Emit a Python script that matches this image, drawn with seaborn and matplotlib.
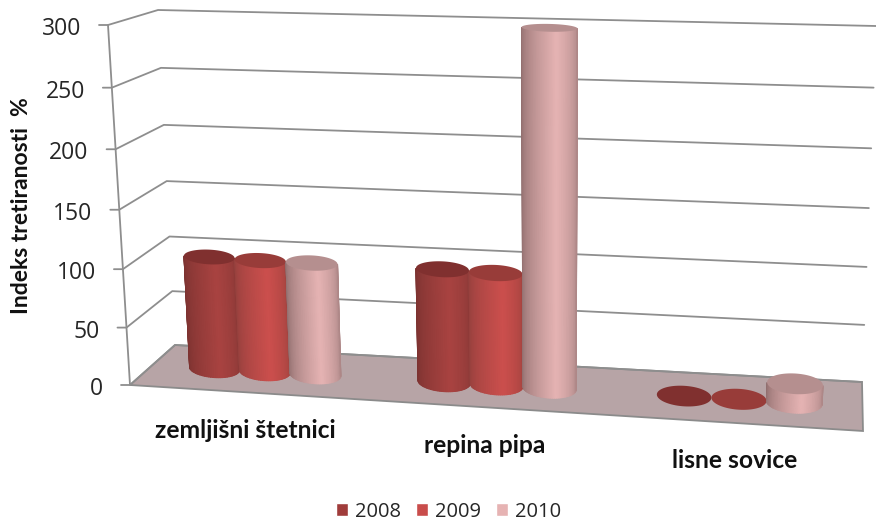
import numpy as np
import pandas as pd
import matplotlib
matplotlib.use('Agg')
import matplotlib.pyplot as plt
import seaborn as sns
from matplotlib.colors import LinearSegmentedColormap
from matplotlib.patches import Polygon
from matplotlib.transforms import Affine2D, Transform

categories = ['zemljišni štetnici', 'repina pipa', 'lisne sovice']
years = ['2008', '2009', '2010']
values_2008 = [99, 98, 0]
values_2009 = [98, 97, 0]
values_2010 = [98, 300, 16]
y_ticks = [0, 50, 100, 150, 200, 250, 300]

body_colors = {
    '2008': ('#7a3230', '#a94341', '#8c3937'),
    '2009': ('#93403d', '#cc4f4d', '#a3433f'),
    '2010': ('#8f6d6d', '#e6b4b4', '#ad8787'),
}
cap_colors = {'2008': '#80302f', '2009': '#983c39', '2010': '#b58f8f'}
legend_colors = ['#a03c3b', '#c94d4b', '#e6b3b3']

sns.set_theme(style='white')
plt.rcParams['font.family'] = ['Open Sans', 'DejaVu Sans']

W, H = 876, 520
to_display = Affine2D().scale(1, -1).translate(0, H)

# data range of the floor
x_lo, x_hi = -0.50, 2.493
v_lo, v_hi = 0, 300


def fit_plane(corners):
    # homography from (category position, value) to picture pixels
    src = [(x_lo, v_lo), (x_hi, v_lo), (x_lo, v_hi), (x_hi, v_hi)]
    a, b = [], []
    for (x, y), (u, v) in zip(src, corners):
        a.append([x, y, 1, 0, 0, 0, -u * x, -u * y])
        a.append([0, 0, 0, x, y, 1, -v * x, -v * y])
        b += [u, v]
    return np.append(np.linalg.solve(np.array(a), np.array(b)), 1).reshape(3, 3)


front_plane = fit_plane([(130, 385), (863, 431), (108, 25), (882, 46)])
back_plane = fit_plane([(175, 345), (862, 382), (158, 10), (876, 26)])


def on_plane(m, x, v):
    x, v = np.asarray(x, float), np.asarray(v, float)
    w = m[2, 0] * x + m[2, 1] * v + m[2, 2]
    return (m[0, 0] * x + m[0, 1] * v + m[0, 2]) / w, (m[1, 0] * x + m[1, 1] * v + m[1, 2]) / w


def project(x, v, d=0.5):
    # d = 0 is the front of the floor, d = 1 the back wall
    fx, fy = on_plane(front_plane, x, v)
    bx, by = on_plane(back_plane, x, v)
    return (1 - d) * fx + d * bx, (1 - d) * fy + d * by


class MidPlane(Transform):
    input_dims = 2
    output_dims = 2

    def transform_non_affine(self, values):
        px, py = project(values[:, 0], values[:, 1])
        return np.column_stack([px, py])


df = pd.DataFrame({
    'category': categories * len(years),
    'year': np.repeat(years, len(categories)),
    'value': values_2008 + values_2009 + values_2010,
})

fig = plt.figure(figsize=(W / 100, H / 100), dpi=100)
# three stacked layers: floor and grid, seaborn bars, cylinder shading and text
back = fig.add_axes([0, 0, 1, 1], zorder=0)
ax = fig.add_axes([0, 0, 1, 1], zorder=1)
front = fig.add_axes([0, 0, 1, 1], zorder=2)
sns.barplot(data=df, x='category', y='value', hue='year', palette=legend_colors,
            saturation=1, width=0.667, gap=0, ax=ax)

# -------------------------------------------------
# FLOOR AND GRID
# -------------------------------------------------
floor = [project(x_lo, 0, 0), project(x_hi, 0, 0), project(x_hi, 0, 1), project(x_lo, 0, 1)]
back.add_patch(Polygon(floor, closed=True, facecolor='#b7a4a6', edgecolor='#8b8b8b', lw=1.3,
                       transform=to_display))

grid_color = '#8e8e8e'
for t in y_ticks:
    fx, fy = project(x_lo, t, 0)
    bx, by = project(x_lo, t, 1)
    ex, ey = project(x_hi, t, 1)
    back.plot([fx - 9, fx, bx, ex], [fy, fy, by, ey], color=grid_color, lw=1.3,
              transform=to_display)
    front.text(fx - 27, fy + 4, str(t), ha='right', va='center', fontsize=16.5, color='#262626',
               transform=to_display)

back.plot(*project(np.array([x_lo, x_lo]), np.array([0, 300]), 0), color=grid_color, lw=1.3,
          transform=to_display)

# -------------------------------------------------
# CYLINDERS ON TOP OF THE SEABORN BARS
# -------------------------------------------------
cyl_depth = 0.22
theta = np.linspace(-np.pi / 2, np.pi / 2, 41)
ring = np.linspace(0, 2 * np.pi, 81)

order = 3.0
for year, container in zip(years, ax.containers):
    cmap = LinearSegmentedColormap.from_list(year, body_colors[year])
    for bar in container:
        bar.set_transform(MidPlane() + to_display)
        bar.set_linewidth(0)
        xc = bar.get_x() + bar.get_width() / 2
        r = bar.get_width() / 2
        val = bar.get_height()

        xs = xc + r * np.sin(theta)
        X0, _ = project(xs, 0)
        X1, _ = project(xs, val)
        _, Y0 = project(xs, 0, 0.5 - cyl_depth * np.cos(theta))
        _, Y1 = project(xs, val, 0.5 - cyl_depth * np.cos(theta))
        shade = np.interp(theta, [-np.pi / 2, 0.25, np.pi / 2], [0, 0.5, 1])
        if val > 0:
            front.pcolormesh(np.vstack([X0, X1]), np.vstack([Y0, Y1]), np.vstack([shade, shade]),
                             shading='gouraud', cmap=cmap, vmin=0, vmax=1,
                             transform=to_display, zorder=order)

        cx, _ = project(xc + r * np.sin(ring), val)
        _, cy = project(xc + r * np.sin(ring), val, 0.5 + cyl_depth * np.cos(ring))
        front.add_patch(Polygon(np.column_stack([cx, cy]), closed=True, facecolor=cap_colors[year],
                                edgecolor='none', transform=to_display, zorder=order + 0.1))
    order += 1

# -------------------------------------------------
# TEXT
# -------------------------------------------------
for i, name in enumerate(categories):
    px, py = project(i, 0, 0)
    front.text(px, py + 38, name, ha='center', va='center', fontsize=17.7, fontweight='bold',
               family=['Lato', 'DejaVu Sans'], color='#111111', transform=to_display)

front.text(22, 206, 'Indeks tretiranosti  %', rotation=90, ha='center', va='center', fontsize=16.5,
           fontweight='bold', family=['Lato', 'DejaVu Sans'], color='#111111', transform=to_display)

sns.move_legend(ax, 'center', bbox_to_anchor=(0.512, 0.016), ncol=3, frameon=False, title=None,
                fontsize=14.5, handlelength=0.6, handleheight=0.6, handletextpad=0.35,
                columnspacing=0.75)

for layer in (back, ax, front):
    layer.axis('off')
fig.savefig('out.png', dpi=100, facecolor='white')
